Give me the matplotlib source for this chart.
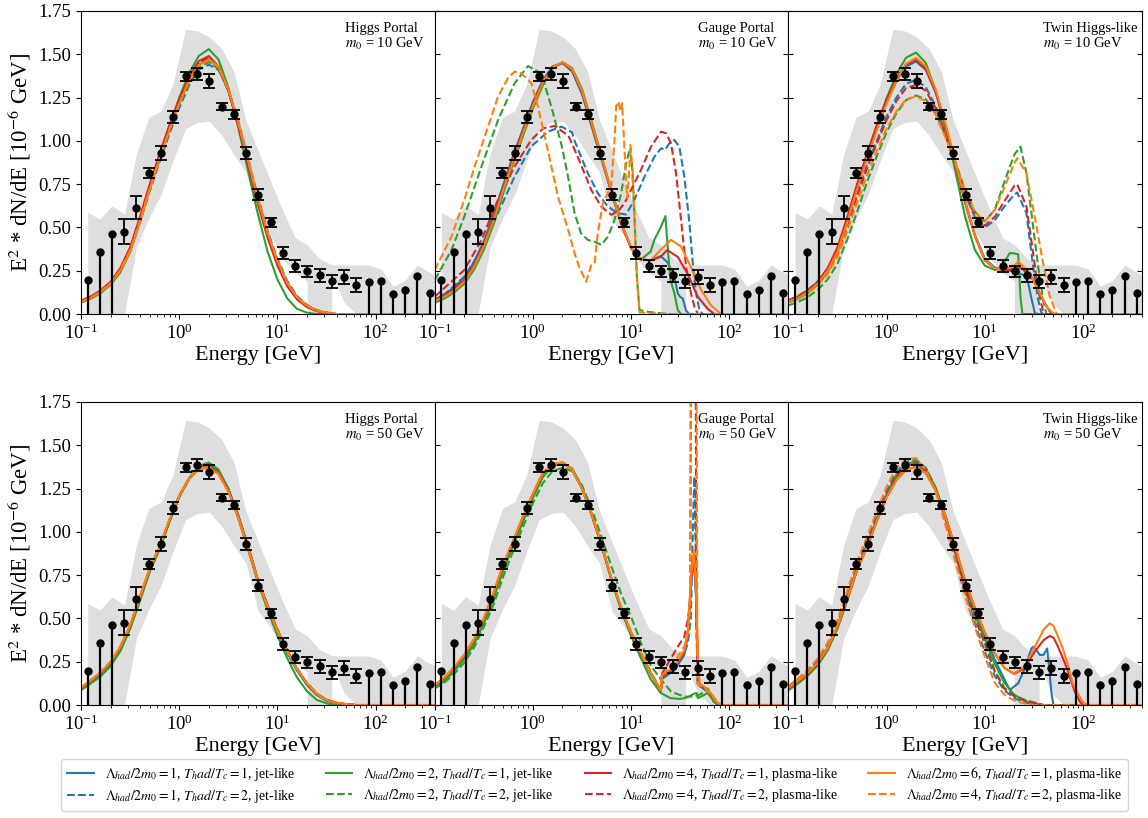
import numpy as np
import matplotlib.pyplot as plt

plt.rcParams['font.family'] = ['Liberation Serif', 'DejaVu Serif']
plt.rcParams['mathtext.fontset'] = 'stix'

# ---- Fermi GC excess data points ----
E_err = [0.277, 0.366, 0.489, 0.652, 0.863, 1.16, 1.53, 2.03, 2.73, 3.61, 4.77, 6.41,
         8.55, 11.3, 15.2, 20.1, 26.9, 35.8, 47.7, 63.7]
flux_err = [0.475, 0.615, 0.815, 0.929, 1.138, 1.373, 1.388, 1.345, 1.197, 1.154, 0.93, 0.69,
            0.529, 0.352, 0.277, 0.246, 0.223, 0.188, 0.213, 0.168]
sigma = [0.072, 0.065, 0.03, 0.04, 0.035, 0.025, 0.035, 0.04, 0.02, 0.025, 0.032, 0.03,
         0.027, 0.033, 0.033, 0.033, 0.037, 0.035, 0.04, 0.04]
E_lim = [0.117, 0.156, 0.206, 84.9, 113, 151, 200, 267, 356]
flux_lim = [0.194, 0.358, 0.46, 0.187, 0.192, 0.117, 0.137, 0.219, 0.121]

# ---- systematic band ----
band_E = [0.117, 0.156, 0.206, 0.277, 0.366, 0.489, 0.652, 0.863, 1.16, 1.53, 2.03, 2.73,
          3.61, 4.77, 6.41, 8.55, 11.3, 15.2, 20.1, 20.1, 26.9, 35.8, 35.8, 47.7, 63.7,
          84.9, 113, 151, 200, 267, 356, 400]
band_hi = [0.587, 0.548, 0.625, 0.577, 0.923, 1.135, 1.173, 1.327, 1.644, 1.635, 1.6, 1.53,
           1.40, 1.12, 0.94, 0.765, 0.60, 0.44, 0.40, 0.40, 0.32, 0.285, 0.285, 0.283, 0.283,
           0.283, 0.26, 0.16, 0.195, 0.283, 0.24, 0.225]
band_lo = [0, 0, 0, 0, 0.385, 0.55, 0.69, 0.885, 1.07, 1.106, 1.113, 1.03,
           0.92, 0.82, 0.54, 0.45, 0.32, 0.24, 0.19, 0, 0, 0, 0.24, 0.07, 0,
           0, 0, 0, 0, 0, 0, 0]

# energy grid used when reading the smooth curves (0.1 decade steps)
E_grid = [0.1, 0.126, 0.158, 0.2, 0.251, 0.316, 0.398, 0.501, 0.631, 0.794, 1.0, 1.26,
          1.58, 2.0, 2.51, 3.16, 3.98, 5.01, 6.31, 7.94, 10.0, 12.6, 15.8, 20.0, 25.1,
          31.6, 39.8, 50.1, 63.1, 79.4, 100.0]

# ---- Higgs Portal, m0 = 10 GeV ----
hp10_blue = [0.073, 0.097, 0.13, 0.18, 0.255, 0.37, 0.54, 0.73, 0.905, 1.07, 1.22, 1.35, 1.44, 1.47, 1.42, 1.29, 1.10, 0.88, 0.66, 0.46, 0.30, 0.175, 0.095, 0.047, 0.02, 0.007, 0.0]
hp10_blue_d = [0.07, 0.094, 0.126, 0.175, 0.25, 0.36, 0.53, 0.71, 0.88, 1.04, 1.19, 1.32, 1.41, 1.44, 1.41, 1.30, 1.12, 0.90, 0.68, 0.48, 0.32, 0.19, 0.105, 0.052, 0.023, 0.009, 0.0]
hp10_green = [0.066, 0.089, 0.12, 0.17, 0.24, 0.36, 0.54, 0.73, 0.91, 1.08, 1.25, 1.39, 1.49, 1.53, 1.47, 1.31, 1.08, 0.83, 0.58, 0.36, 0.20, 0.09, 0.03, 0.008, 0.0]
hp10_green_d = [0.07, 0.093, 0.125, 0.175, 0.25, 0.365, 0.535, 0.72, 0.895, 1.055, 1.205, 1.335, 1.425, 1.455, 1.415, 1.29, 1.10, 0.885, 0.665, 0.465, 0.305, 0.18, 0.098, 0.048, 0.021, 0.007, 0.0]
hp10_red = [0.078, 0.102, 0.136, 0.187, 0.265, 0.385, 0.56, 0.75, 0.925, 1.09, 1.24, 1.37, 1.46, 1.49, 1.43, 1.29, 1.09, 0.865, 0.64, 0.44, 0.28, 0.16, 0.085, 0.04, 0.017, 0.006, 0.0]
hp10_red_d = [0.076, 0.1, 0.134, 0.184, 0.26, 0.38, 0.555, 0.745, 0.92, 1.085, 1.235, 1.365, 1.45, 1.48, 1.43, 1.295, 1.10, 0.875, 0.65, 0.45, 0.29, 0.168, 0.09, 0.044, 0.019, 0.006, 0.0]
hp10_orange = [0.07, 0.093, 0.126, 0.176, 0.25, 0.36, 0.53, 0.72, 0.895, 1.06, 1.215, 1.345, 1.435, 1.47, 1.43, 1.30, 1.11, 0.89, 0.67, 0.47, 0.31, 0.18, 0.098, 0.049, 0.021, 0.008, 0.0]
hp10_orange_d = [0.072, 0.096, 0.13, 0.18, 0.254, 0.368, 0.538, 0.726, 0.9, 1.065, 1.218, 1.347, 1.437, 1.465, 1.425, 1.298, 1.108, 0.888, 0.668, 0.468, 0.308, 0.179, 0.097, 0.048, 0.021, 0.008, 0.0]

# ---- Gauge Portal, m0 = 10 GeV ----
gp10_blue = [0.085, 0.115, 0.155, 0.21, 0.30, 0.42, 0.57, 0.75, 0.915, 1.07, 1.225, 1.35, 1.43, 1.45, 1.40, 1.27, 1.08, 0.89, 0.70, 0.52, 0.38, 0.315, 0.31]
gp10_blue_tE = [20.0, 23.4, 27.6, 29.9, 31.5, 33.6, 36.3, 39.3]
gp10_blue_ty = [0.335, 0.30, 0.215, 0.12, 0.10, 0.09, 0.02, 0.0]
gp10_green = [0.065, 0.09, 0.125, 0.175, 0.255, 0.37, 0.52, 0.70, 0.87, 1.03, 1.185, 1.32, 1.415, 1.455, 1.42, 1.30, 1.11, 0.91, 0.71, 0.53, 0.385, 0.315, 0.36]
gp10_green_tE = [17.3, 20.0, 22.4, 23.2, 25.1, 27.6, 29.9, 32.3]
gp10_green_ty = [0.43, 0.50, 0.566, 0.44, 0.20, 0.12, 0.023, 0.0]
gp10_red = [0.08, 0.108, 0.145, 0.195, 0.28, 0.40, 0.55, 0.73, 0.90, 1.055, 1.21, 1.34, 1.425, 1.45, 1.41, 1.285, 1.09, 0.90, 0.705, 0.52, 0.38, 0.315, 0.31]
gp10_red_tE = [20.0, 23.3, 29.9, 37.8, 47.8, 60.4, 70.5]
gp10_red_ty = [0.33, 0.37, 0.33, 0.23, 0.10, 0.03, 0.0]
gp10_orange = [0.075, 0.1, 0.135, 0.185, 0.27, 0.39, 0.54, 0.72, 0.885, 1.045, 1.20, 1.335, 1.425, 1.455, 1.415, 1.29, 1.10, 0.905, 0.71, 0.525, 0.385, 0.315, 0.31]
gp10_orange_tE = [20.0, 25.5, 32.3, 40.8, 51.6, 65.2, 82.4]
gp10_orange_ty = [0.37, 0.428, 0.39, 0.27, 0.14, 0.05, 0.0]
gp10_blue_dE = [0.1, 0.2, 0.3, 0.44, 0.65, 0.96, 1.42, 1.95, 2.5, 2.66, 3.63, 4.59, 5.81, 7.33, 8.91, 10.8, 13.7, 17.3, 20.2, 22.2, 24.5, 27.6, 31.0, 34.9, 39.3, 42.5, 45.9, 49.7, 53.7]
gp10_blue_dy = [0.062, 0.216, 0.37, 0.582, 0.793, 0.967, 1.053, 1.082, 1.05, 1.0, 0.813, 0.697, 0.621, 0.582, 0.575, 0.659, 0.793, 0.909, 0.957, 0.948, 0.986, 1.005, 0.967, 0.793, 0.524, 0.293, 0.119, 0.023, 0.0]
gp10_green_dE = [0.1, 0.148, 0.2, 0.299, 0.442, 0.652, 0.891, 1.22, 1.54, 1.95, 2.28, 2.66, 3.09, 3.63, 4.25, 4.97, 5.81, 6.78, 7.93, 8.91, 9.64, 10.2, 10.8, 11.5, 12.2, 14.8, 20.2, 25.0]
gp10_green_dy = [0.197, 0.369, 0.562, 0.851, 1.121, 1.333, 1.432, 1.39, 1.198, 0.98, 0.793, 0.582, 0.466, 0.428, 0.418, 0.399, 0.447, 0.543, 0.697, 0.87, 0.947, 0.87, 0.582, 0.196, 0.023, 0.013, 0.004, 0.0]
gp10_red_dE = [0.1, 0.2, 0.3, 0.44, 0.65, 0.96, 1.28, 1.66, 2.3, 2.9, 3.93, 4.97, 6.27, 7.33, 8.57, 10.0, 12.6, 16.0, 20.2, 22.7, 25.5, 28.7, 32.3, 36.3, 40.8, 44.2, 47.9]
gp10_red_dy = [0.10, 0.254, 0.428, 0.659, 0.851, 1.005, 1.073, 1.086, 1.03, 0.90, 0.717, 0.621, 0.573, 0.592, 0.64, 0.717, 0.832, 0.967, 1.053, 1.044, 0.986, 0.813, 0.543, 0.274, 0.119, 0.042, 0.0]
gp10_orange_dE = [0.1, 0.117, 0.148, 0.2, 0.255, 0.323, 0.442, 0.557, 0.652, 0.762, 0.964, 1.125, 1.42, 1.8, 2.28, 2.66, 2.95, 3.49, 3.93, 4.25, 4.59, 5.16, 6.27, 6.78, 7.05, 7.45, 7.8, 8.11, 8.57, 9.1, 9.5, 9.86, 10.4, 11.3, 12.2, 15.0, 25.0]
gp10_orange_dy = [0.254, 0.331, 0.447, 0.659, 0.851, 1.024, 1.256, 1.362, 1.40, 1.39, 1.333, 1.198, 0.947, 0.678, 0.49, 0.351, 0.274, 0.187, 0.283, 0.293, 0.47, 0.64, 0.74, 1.0, 1.2, 1.227, 1.17, 1.217, 0.95, 0.67, 0.80, 0.976, 0.81, 0.275, 0.01, 0.005, 0.0]

# ---- Twin Higgs-like, m0 = 10 GeV ----
th10_blue = [0.073, 0.097, 0.13, 0.18, 0.255, 0.37, 0.54, 0.73, 0.905, 1.07, 1.22, 1.345, 1.43, 1.458, 1.41, 1.28, 1.09, 0.87, 0.65, 0.46, 0.32, 0.27, 0.255, 0.246]
th10_blue_tE = [24.5, 27.5, 30.1, 32.4, 35.0]
th10_blue_ty = [0.227, 0.188, 0.083, 0.006, 0.0]
th10_green = [0.066, 0.089, 0.12, 0.17, 0.24, 0.36, 0.54, 0.73, 0.91, 1.08, 1.245, 1.385, 1.48, 1.51, 1.45, 1.29, 1.07, 0.83, 0.56, 0.37, 0.28, 0.255]
th10_green_tE = [14.3, 18.0, 20.0, 21.9, 23.1, 24.2]
th10_green_ty = [0.26, 0.352, 0.35, 0.345, 0.10, 0.0]
th10_red = [0.078, 0.102, 0.136, 0.187, 0.265, 0.385, 0.56, 0.75, 0.925, 1.09, 1.24, 1.36, 1.44, 1.467, 1.415, 1.285, 1.09, 0.87, 0.645, 0.45, 0.31, 0.265, 0.25, 0.262]
th10_red_tE = [23.8, 31.1, 39.3, 45.9, 50.0]
th10_red_ty = [0.265, 0.198, 0.083, 0.015, 0.0]
th10_orange = [0.07, 0.093, 0.126, 0.176, 0.25, 0.36, 0.53, 0.72, 0.895, 1.06, 1.215, 1.345, 1.445, 1.48, 1.43, 1.30, 1.10, 0.88, 0.655, 0.455, 0.315, 0.265, 0.255, 0.28]
th10_orange_tE = [21.9, 28.8, 36.3, 42.5, 49.7, 54.0]
th10_orange_ty = [0.304, 0.237, 0.121, 0.044, 0.006, 0.0]
th10_blue_d = [0.08, 0.105, 0.14, 0.19, 0.26, 0.37, 0.53, 0.70, 0.86, 1.0, 1.14, 1.25, 1.33, 1.352, 1.31, 1.20, 1.04, 0.86, 0.69, 0.56, 0.50, 0.54, 0.62, 0.69]
th10_blue_dtE = [21.4, 26.6, 31.1, 35.0, 37.8, 40.0]
th10_blue_dty = [0.702, 0.583, 0.275, 0.083, 0.006, 0.0]
th10_green_d = [0.05, 0.07, 0.098, 0.14, 0.2, 0.29, 0.43, 0.59, 0.76, 0.91, 1.05, 1.16, 1.235, 1.262, 1.24, 1.16, 1.03, 0.88, 0.715, 0.59, 0.535, 0.60, 0.76, 0.92]
th10_green_dtE = [23.1, 26.6, 31.1, 35.0, 39.3, 42.5]
th10_green_dty = [0.967, 0.813, 0.506, 0.275, 0.083, 0.0]
th10_red_d = [0.075, 0.098, 0.13, 0.178, 0.245, 0.35, 0.51, 0.68, 0.84, 0.985, 1.12, 1.23, 1.305, 1.323, 1.29, 1.19, 1.04, 0.87, 0.70, 0.57, 0.51, 0.56, 0.65, 0.74]
th10_red_dtE = [21.4, 26.6, 31.1, 35.0, 39.3, 41.0]
th10_red_dty = [0.75, 0.621, 0.352, 0.14, 0.015, 0.0]
th10_orange_d = [0.07, 0.092, 0.122, 0.165, 0.23, 0.33, 0.48, 0.645, 0.80, 0.94, 1.07, 1.17, 1.24, 1.256, 1.23, 1.15, 1.02, 0.87, 0.71, 0.59, 0.535, 0.60, 0.73, 0.87]
th10_orange_dtE = [21.4, 26.6, 33.7, 39.3, 45.9, 53.7, 56.0]
th10_orange_dty = [0.90, 0.813, 0.506, 0.294, 0.102, 0.006, 0.0]

# ---- Higgs Portal, m0 = 50 GeV ----
hp50_blue = [0.093, 0.135, 0.18, 0.24, 0.325, 0.45, 0.61, 0.775, 0.905, 1.06, 1.205, 1.31, 1.37, 1.39, 1.35, 1.25, 1.10, 0.92, 0.725, 0.57, 0.425, 0.30, 0.20, 0.115, 0.058, 0.025, 0.01, 0.003, 0.0]
hp50_blue_d = [0.097, 0.139, 0.185, 0.245, 0.332, 0.457, 0.62, 0.785, 0.91, 1.065, 1.207, 1.308, 1.363, 1.375, 1.337, 1.24, 1.09, 0.915, 0.725, 0.574, 0.434, 0.313, 0.212, 0.127, 0.066, 0.031, 0.013, 0.005, 0.0]
hp50_green = [0.085, 0.125, 0.165, 0.225, 0.31, 0.44, 0.60, 0.77, 0.9, 1.055, 1.2, 1.31, 1.38, 1.40, 1.36, 1.25, 1.08, 0.90, 0.71, 0.55, 0.40, 0.27, 0.16, 0.08, 0.03, 0.01, 0.0]
hp50_green_d = [0.09, 0.13, 0.175, 0.235, 0.32, 0.445, 0.61, 0.78, 0.905, 1.06, 1.203, 1.306, 1.364, 1.378, 1.34, 1.24, 1.088, 0.912, 0.722, 0.57, 0.43, 0.31, 0.21, 0.125, 0.065, 0.03, 0.013, 0.005, 0.0]
hp50_red = [0.098, 0.14, 0.186, 0.246, 0.333, 0.458, 0.622, 0.787, 0.912, 1.066, 1.207, 1.308, 1.365, 1.378, 1.34, 1.24, 1.09, 0.915, 0.725, 0.575, 0.435, 0.313, 0.21, 0.125, 0.065, 0.03, 0.013, 0.005, 0.0]
hp50_red_d = [0.1, 0.142, 0.188, 0.248, 0.335, 0.46, 0.624, 0.789, 0.914, 1.068, 1.208, 1.309, 1.364, 1.376, 1.338, 1.238, 1.088, 0.913, 0.723, 0.573, 0.433, 0.312, 0.21, 0.125, 0.065, 0.03, 0.013, 0.005, 0.0]
hp50_orange = [0.1, 0.142, 0.188, 0.248, 0.335, 0.46, 0.625, 0.79, 0.915, 1.07, 1.21, 1.31, 1.365, 1.375, 1.335, 1.235, 1.085, 0.91, 0.72, 0.57, 0.43, 0.31, 0.21, 0.125, 0.065, 0.03, 0.013, 0.005, 0.0]
hp50_orange_d = [0.102, 0.144, 0.19, 0.25, 0.337, 0.462, 0.626, 0.79, 0.914, 1.068, 1.207, 1.306, 1.36, 1.37, 1.332, 1.233, 1.084, 0.91, 0.72, 0.57, 0.43, 0.31, 0.21, 0.125, 0.065, 0.03, 0.013, 0.005, 0.0]

# ---- Gauge Portal, m0 = 50 GeV ----
gp50_blue = [0.11, 0.155, 0.213, 0.283, 0.37, 0.49, 0.64, 0.805, 0.94, 1.08, 1.215, 1.335, 1.39, 1.40, 1.36, 1.25, 1.095, 0.92, 0.725, 0.555, 0.415, 0.295, 0.185, 0.08]
gp50_blue_tE = [20.3, 20.6, 27.6, 34.9, 37.8, 40.8, 43.6, 45.9, 47.8, 49.7, 55.8, 65.3, 76.4, 85.0]
gp50_blue_ty = [0.10, 0.15, 0.20, 0.29, 0.40, 0.70, 0.85, 0.62, 0.25, 0.11, 0.095, 0.06, 0.008, 0.0]
gp50_green = [0.1, 0.14, 0.195, 0.265, 0.35, 0.47, 0.615, 0.78, 0.92, 1.06, 1.195, 1.315, 1.38, 1.395, 1.365, 1.26, 1.10, 0.92, 0.72, 0.545, 0.40, 0.27, 0.15, 0.07, 0.04, 0.035]
gp50_green_tE = [37.8, 43.6, 46.5, 47.8, 52.0, 60.4, 66.0, 72.0, 80.0]
gp50_green_ty = [0.045, 0.065, 0.07, 0.04, 0.05, 0.07, 0.04, 0.01, 0.0]
gp50_red = [0.113, 0.158, 0.218, 0.288, 0.377, 0.497, 0.647, 0.812, 0.947, 1.087, 1.218, 1.338, 1.39, 1.40, 1.36, 1.25, 1.098, 0.922, 0.728, 0.558, 0.418, 0.298, 0.188, 0.083]
gp50_red_tE = [20.3, 20.6, 27.6, 34.9, 37.8, 40.8, 43.6, 45.9, 47.8, 49.7, 55.8, 65.3, 76.4, 85.0]
gp50_red_ty = [0.10, 0.165, 0.21, 0.31, 0.41, 0.72, 0.87, 0.64, 0.27, 0.12, 0.10, 0.065, 0.01, 0.0]
gp50_orange = [0.115, 0.16, 0.22, 0.29, 0.38, 0.50, 0.65, 0.815, 0.95, 1.09, 1.22, 1.34, 1.39, 1.40, 1.36, 1.25, 1.10, 0.925, 0.73, 0.56, 0.42, 0.30, 0.19, 0.085]
gp50_orange_tE = [20.3, 20.6, 27.6, 34.9, 37.8, 40.8, 43.6, 45.9, 47.8, 49.7, 55.8, 65.3, 76.4, 85.0]
gp50_orange_ty = [0.106, 0.173, 0.221, 0.318, 0.414, 0.741, 0.895, 0.664, 0.279, 0.125, 0.106, 0.067, 0.01, 0.0]
gp50_blue_d = [0.108, 0.152, 0.21, 0.28, 0.367, 0.487, 0.637, 0.802, 0.937, 1.077, 1.212, 1.332, 1.388, 1.40, 1.362, 1.255, 1.1, 0.925, 0.73, 0.56, 0.42, 0.30, 0.19, 0.085]
gp50_blue_dtE = [20.3, 20.6, 27.6, 34.9, 37.8, 40.6, 42.5, 44.2, 45.5, 46.5, 47.8, 55.8, 65.0, 76.0, 85.0]
gp50_blue_dty = [0.12, 0.16, 0.221, 0.299, 0.356, 0.50, 1.0, 1.319, 0.9, 0.4, 0.12, 0.09, 0.05, 0.01, 0.0]
gp50_green_d = [0.095, 0.13, 0.18, 0.245, 0.33, 0.45, 0.58, 0.745, 0.89, 1.03, 1.165, 1.28, 1.35, 1.37, 1.35, 1.27, 1.13, 0.97, 0.80, 0.64, 0.51, 0.36, 0.23, 0.15]
gp50_green_dtE = [25.6, 34.9, 45.0, 52.0, 60.4, 66.0, 70.0, 75.0]
gp50_green_dty = [0.077, 0.048, 0.05, 0.065, 0.096, 0.05, 0.01, 0.0]
gp50_red_d = [0.112, 0.157, 0.216, 0.286, 0.375, 0.495, 0.645, 0.81, 0.945, 1.085, 1.217, 1.337, 1.39, 1.40, 1.36, 1.25, 1.097, 0.922, 0.728, 0.558, 0.418, 0.298, 0.188, 0.083]
gp50_red_dtE = [20.3, 20.6, 29.9, 34.9, 37.8, 40.0, 40.8, 44.0, 45.5, 46.3, 47.8, 55.8, 65.3, 76.4, 85.0]
gp50_red_dty = [0.13, 0.18, 0.337, 0.395, 0.491, 0.6, 2.0, 2.5, 2.0, 0.5, 0.12, 0.10, 0.06, 0.01, 0.0]
gp50_orange_d = [0.115, 0.16, 0.22, 0.29, 0.38, 0.50, 0.65, 0.815, 0.95, 1.09, 1.22, 1.34, 1.39, 1.40, 1.36, 1.25, 1.10, 0.925, 0.73, 0.56, 0.42, 0.30, 0.19, 0.085]
gp50_orange_dtE = [20.3, 20.6, 27.6, 34.9, 37.8, 40.0, 40.6, 44.0, 46.5, 47.3, 47.8, 55.8, 65.3, 76.4, 85.0]
gp50_orange_dty = [0.12, 0.17, 0.25, 0.34, 0.42, 0.55, 2.0, 3.0, 2.0, 0.3, 0.12, 0.10, 0.06, 0.01, 0.0]

# ---- Twin Higgs-like, m0 = 50 GeV ----
th50_blue = [0.095, 0.135, 0.18, 0.24, 0.325, 0.45, 0.615, 0.785, 0.92, 1.07, 1.215, 1.32, 1.38, 1.394, 1.35, 1.245, 1.09, 0.905, 0.71, 0.55, 0.40, 0.265, 0.15]
th50_blue_tE = [18.0, 21.9, 25.1, 29.9, 31.6, 36.4, 39.8, 43.2, 44.7, 47.9, 50.1]
th50_blue_ty = [0.087, 0.125, 0.2, 0.327, 0.337, 0.289, 0.29, 0.327, 0.25, 0.067, 0.0]
th50_green = [0.085, 0.125, 0.17, 0.23, 0.315, 0.44, 0.605, 0.78, 0.92, 1.07, 1.215, 1.33, 1.39, 1.408, 1.365, 1.255, 1.09, 0.895, 0.695, 0.525, 0.38, 0.24, 0.13, 0.06, 0.025, 0.008, 0.0]
th50_red = [0.1, 0.14, 0.185, 0.245, 0.33, 0.455, 0.615, 0.78, 0.91, 1.06, 1.20, 1.30, 1.36, 1.375, 1.34, 1.24, 1.09, 0.91, 0.72, 0.56, 0.42, 0.30, 0.215, 0.18, 0.21, 0.30, 0.375]
th50_red_tE = [45.9, 50.1, 55.8, 67.9, 82.6, 93.0, 100.0]
th50_red_ty = [0.399, 0.39, 0.337, 0.221, 0.077, 0.02, 0.0]
th50_orange = [0.1, 0.14, 0.185, 0.245, 0.33, 0.455, 0.615, 0.78, 0.91, 1.06, 1.20, 1.30, 1.36, 1.375, 1.34, 1.24, 1.09, 0.91, 0.72, 0.56, 0.42, 0.30, 0.215, 0.183, 0.22, 0.325, 0.435]
th50_orange_tE = [45.9, 50.1, 55.8, 63.1, 67.9, 79.4, 96.6, 108.0]
th50_orange_ty = [0.472, 0.458, 0.395, 0.32, 0.261, 0.12, 0.029, 0.0]
th50_blue_d = [0.105, 0.148, 0.195, 0.258, 0.345, 0.472, 0.64, 0.808, 0.945, 1.095, 1.235, 1.345, 1.405, 1.415, 1.37, 1.255, 1.08, 0.87, 0.66, 0.47, 0.31, 0.17, 0.085, 0.04, 0.015, 0.005, 0.0]
th50_green_d = [0.09, 0.13, 0.175, 0.235, 0.32, 0.445, 0.61, 0.78, 0.915, 1.065, 1.21, 1.32, 1.385, 1.40, 1.36, 1.25, 1.08, 0.885, 0.68, 0.51, 0.36, 0.20, 0.10, 0.055, 0.032, 0.015, 0.0]
th50_red_d = [0.095, 0.135, 0.18, 0.24, 0.325, 0.45, 0.615, 0.785, 0.92, 1.07, 1.212, 1.322, 1.385, 1.398, 1.355, 1.245, 1.075, 0.88, 0.675, 0.505, 0.355, 0.195, 0.095, 0.05, 0.028, 0.012, 0.0]
th50_orange_d = [0.11, 0.155, 0.205, 0.27, 0.36, 0.49, 0.66, 0.83, 0.97, 1.12, 1.26, 1.37, 1.42, 1.425, 1.36, 1.23, 1.04, 0.83, 0.63, 0.45, 0.28, 0.13, 0.06, 0.025, 0.01, 0.0]

labels = [r"$\Lambda_{had}/2m_0 = 1$, $T_had/T_c = 1$, jet-like",
          r"$\Lambda_{had}/2m_0 = 1$, $T_had/T_c = 2$, jet-like",
          r"$\Lambda_{had}/2m_0 = 2$, $T_had/T_c = 1$, jet-like",
          r"$\Lambda_{had}/2m_0 = 2$, $T_had/T_c = 2$, jet-like",
          r"$\Lambda_{had}/2m_0 = 4$, $T_had/T_c = 1$, plasma-like",
          r"$\Lambda_{had}/2m_0 = 4$, $T_had/T_c = 2$, plasma-like",
          r"$\Lambda_{had}/2m_0 = 6$, $T_had/T_c = 1$, plasma-like",
          r"$\Lambda_{had}/2m_0 = 4$, $T_had/T_c = 2$, plasma-like"]
colors = ["tab:blue", "tab:blue", "tab:green", "tab:green",
          "tab:red", "tab:red", "tab:orange", "tab:orange"]
styles = ["-", "--", "-", "--", "-", "--", "-", "--"]


def curve(main, tail_E=(), tail_y=()):
    E = list(E_grid[:len(main)]) + list(tail_E)
    y = list(main) + list(tail_y)
    E.append(400.0)
    y.append(0.0)
    return E, y


panels = [
    ("Higgs Portal", "10", [curve(hp10_blue), curve(hp10_blue_d), curve(hp10_green), curve(hp10_green_d),
                            curve(hp10_red), curve(hp10_red_d), curve(hp10_orange), curve(hp10_orange_d)]),
    ("Gauge Portal", "10", [curve(gp10_blue, gp10_blue_tE, gp10_blue_ty), curve([], gp10_blue_dE, gp10_blue_dy),
                            curve(gp10_green, gp10_green_tE, gp10_green_ty), curve([], gp10_green_dE, gp10_green_dy),
                            curve(gp10_red, gp10_red_tE, gp10_red_ty), curve([], gp10_red_dE, gp10_red_dy),
                            curve(gp10_orange, gp10_orange_tE, gp10_orange_ty), curve([], gp10_orange_dE, gp10_orange_dy)]),
    ("Twin Higgs-like", "10", [curve(th10_blue, th10_blue_tE, th10_blue_ty), curve(th10_blue_d, th10_blue_dtE, th10_blue_dty),
                               curve(th10_green, th10_green_tE, th10_green_ty), curve(th10_green_d, th10_green_dtE, th10_green_dty),
                               curve(th10_red, th10_red_tE, th10_red_ty), curve(th10_red_d, th10_red_dtE, th10_red_dty),
                               curve(th10_orange, th10_orange_tE, th10_orange_ty), curve(th10_orange_d, th10_orange_dtE, th10_orange_dty)]),
    ("Higgs Portal", "50", [curve(hp50_blue), curve(hp50_blue_d), curve(hp50_green), curve(hp50_green_d),
                            curve(hp50_red), curve(hp50_red_d), curve(hp50_orange), curve(hp50_orange_d)]),
    ("Gauge Portal", "50", [curve(gp50_blue, gp50_blue_tE, gp50_blue_ty), curve(gp50_blue_d, gp50_blue_dtE, gp50_blue_dty),
                            curve(gp50_green, gp50_green_tE, gp50_green_ty), curve(gp50_green_d, gp50_green_dtE, gp50_green_dty),
                            curve(gp50_red, gp50_red_tE, gp50_red_ty), curve(gp50_red_d, gp50_red_dtE, gp50_red_dty),
                            curve(gp50_orange, gp50_orange_tE, gp50_orange_ty), curve(gp50_orange_d, gp50_orange_dtE, gp50_orange_dty)]),
    ("Twin Higgs-like", "50", [curve(th50_blue, th50_blue_tE, th50_blue_ty), curve(th50_blue_d),
                               curve(th50_green), curve(th50_green_d),
                               curve(th50_red, th50_red_tE, th50_red_ty), curve(th50_red_d),
                               curve(th50_orange, th50_orange_tE, th50_orange_ty), curve(th50_orange_d)]),
]

fig, axes = plt.subplots(2, 3, figsize=(11.48, 8.18), dpi=100)
fig.subplots_adjust(left=0.0706, right=0.9948, top=0.9866, bottom=0.1381, wspace=0, hspace=0.29)

for i, (name, m0, curves) in enumerate(panels):
    ax = axes.flat[i]
    ax.fill_between(band_E, band_lo, band_hi, color="#dedede", lw=0, zorder=0)
    handles = []
    for (E, y), c, ls, lab in zip(curves, colors, styles, labels):
        h, = ax.plot(E, y, color=c, ls=ls, lw=1.5, label=lab, zorder=2)
        handles.append(h)
    ax.vlines(E_lim, 0, flux_lim, color="k", lw=1.6, zorder=4)
    ax.plot(E_lim, flux_lim, "o", color="k", ms=5, zorder=5)
    ax.errorbar(E_err, flux_err, yerr=sigma, fmt="o", color="k", ms=5,
                capsize=4, elinewidth=1.3, capthick=1.3, zorder=5)
    ax.set_xscale("log")
    ax.set_xlim(0.1, 400)
    ax.set_ylim(0, 1.75)
    ax.set_yticks(np.arange(0, 1.76, 0.25))
    ax.tick_params(axis="both", labelsize=13.5)
    ax.tick_params(axis="y", right=True)
    ax.set_xlabel("Energy [GeV]", fontsize=16, labelpad=2)
    ax.text(0.745 if i % 3 != 2 else 0.72, 0.965, name + "\n" + r"$m_0$ = " + m0 + " GeV",
            transform=ax.transAxes, ha="left", va="top", fontsize=10.5, linespacing=1.1)
    if i % 3 == 0:
        ax.set_yticklabels(["%.2f" % v for v in np.arange(0, 1.76, 0.25)])
        ax.set_ylabel(r"E$^2$ * dN/dE [10$^{-6}$ GeV]", fontsize=16.5, labelpad=4)
    else:
        ax.set_yticklabels([])
        ax.tick_params(axis="y", direction="in")

fig.legend(handles, labels, loc="lower center", ncol=4, bbox_to_anchor=(0.518, 0.0),
           fontsize=10, columnspacing=2.2, handlelength=1.9, labelspacing=0.25,
           borderpad=0.45)

fig.savefig("out.png", dpi=100)
